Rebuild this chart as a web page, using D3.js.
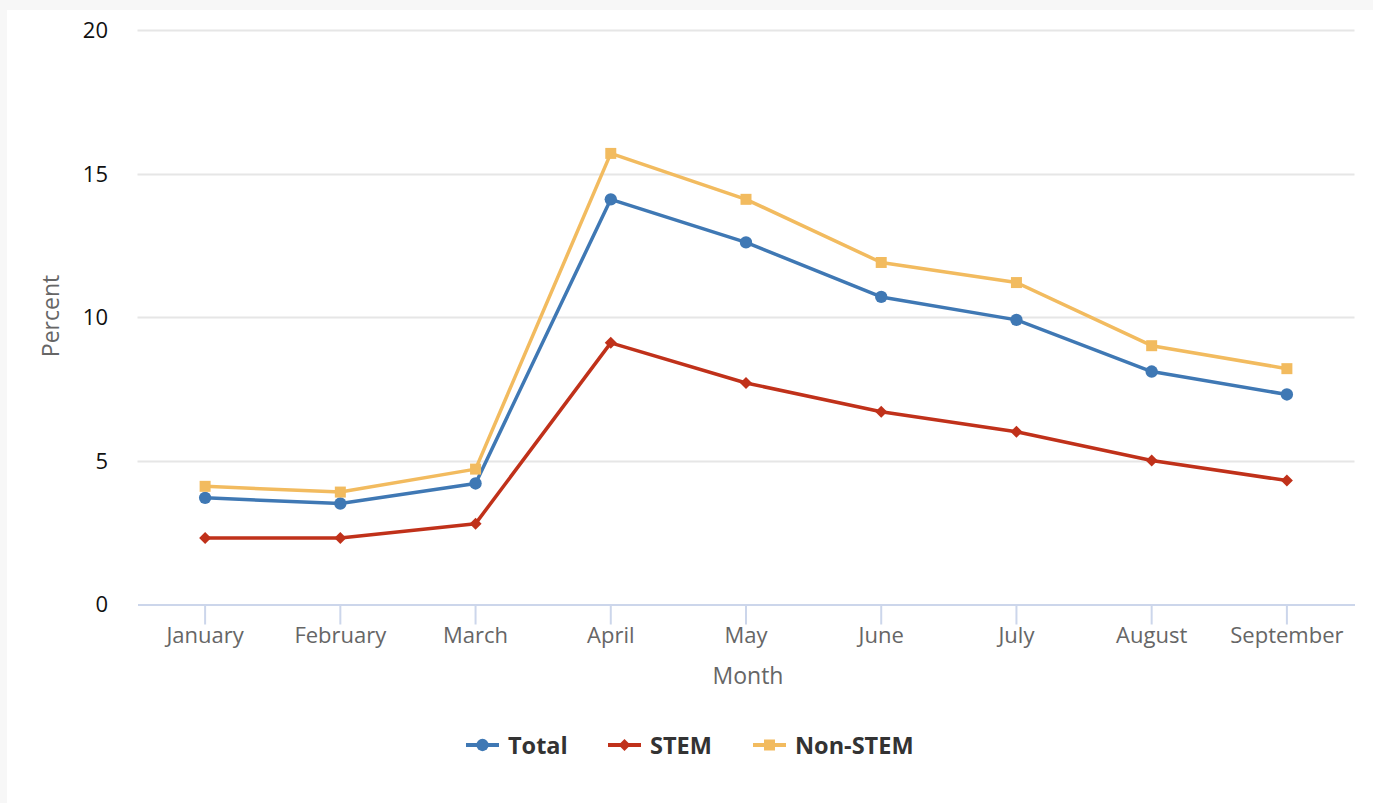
<!DOCTYPE html>
<html>
<head>
<meta charset="utf-8">
<script src="https://cdn.jsdelivr.net/npm/d3@7"></script>
<style>
  html, body { margin: 0; padding: 0; background: #f7f7f7; }
  #chart { position: absolute; left: 7px; top: 10px; width: 1366px; height: 793px; background: #fff; }
  text { font-family: "Open Sans", sans-serif; }
</style>
</head>
<body>
<div id="chart"></div>
<script>
const months = ["January", "February", "March", "April", "May", "June", "July", "August", "September"];
const total = [3.7, 3.5, 4.2, 14.1, 12.6, 10.7, 9.9, 8.1, 7.3];
const stem = [2.3, 2.3, 2.8, 9.1, 7.7, 6.7, 6.0, 5.0, 4.3];
const nonStem = [4.1, 3.9, 4.7, 15.7, 14.1, 11.9, 11.2, 9.0, 8.2];
const yTicks = [0, 5, 10, 15, 20];

const series = [
  { name: "Total", values: total, color: "#3f78b4", symbol: d3.symbolCircle, size: 120, rot: 0 },
  { name: "STEM", values: stem, color: "#c0311a", symbol: d3.symbolSquare, size: 72, rot: 45 },
  { name: "Non-STEM", values: nonStem, color: "#f2bb5f", symbol: d3.symbolSquare, size: 121, rot: 0 }
];

// plot area in page coords, svg offset by panel position
const offX = 7, offY = 10;
const plotLeft = 137.5 - offX, plotRight = 1354.5 - offX;
const plotTop = 30 - offY, plotBottom = 604 - offY;

const svg = d3.select("#chart").append("svg")
  .attr("width", 1366)
  .attr("height", 793);

const x = d3.scaleBand().domain(months).range([plotLeft, plotRight]);
const y = d3.scaleLinear().domain([0, 20]).range([plotBottom, plotTop]);

// gridlines
svg.append("g")
  .selectAll("line")
  .data(yTicks.filter(d => d > 0))
  .join("line")
  .attr("x1", plotLeft).attr("x2", plotRight)
  .attr("y1", d => Math.round(y(d)) + 0.5).attr("y2", d => Math.round(y(d)) + 0.5)
  .attr("stroke", "#e6e6e6")
  .attr("stroke-width", 2);

// y labels
svg.append("g")
  .selectAll("text")
  .data(yTicks)
  .join("text")
  .attr("x", 108 - offX)
  .attr("y", d => y(d) + 8)
  .attr("text-anchor", "end")
  .attr("fill", "#111")
  .style("font-size", "22px")
  .text(d => d);

// x axis
const xAxis = svg.append("g")
  .attr("transform", `translate(0,${Math.round(plotBottom) + 0.5})`)
  .call(d3.axisBottom(x).tickSize(20).tickSizeOuter(0));
xAxis.select(".domain").attr("stroke", "#ccd6eb").attr("stroke-width", 2);
xAxis.selectAll(".tick line").attr("stroke", "#ccd6eb").attr("stroke-width", 2).attr("y2", 20);
xAxis.selectAll(".tick text")
  .attr("y", 38).attr("dy", null)
  .attr("fill", "#666")
  .style("font-size", "22px")
  .style("font-family", "'Open Sans', sans-serif");

// axis titles
svg.append("text")
  .attr("x", 748 - offX).attr("y", 684 - offY)
  .attr("text-anchor", "middle")
  .attr("fill", "#666")
  .style("font-size", "23px")
  .text("Month");

svg.append("text")
  .attr("transform", `translate(${59 - offX},${316 - offY}) rotate(-90)`)
  .attr("text-anchor", "middle")
  .attr("fill", "#666")
  .style("font-size", "23px")
  .text("Percent");

// lines + markers
const line = d3.line()
  .x((d, i) => x(months[i]) + x.bandwidth() / 2)
  .y(d => y(d));

series.forEach(s => {
  const g = svg.append("g");
  g.append("path")
    .datum(s.values)
    .attr("d", line)
    .attr("fill", "none")
    .attr("stroke", s.color)
    .attr("stroke-width", 3.5)
    .attr("stroke-linejoin", "round");
  g.selectAll("path.mark")
    .data(s.values)
    .join("path")
    .attr("class", "mark")
    .attr("transform", (d, i) => `translate(${x(months[i]) + x.bandwidth() / 2},${y(d)}) rotate(${s.rot})`)
    .attr("d", d3.symbol().type(s.symbol).size(s.size))
    .attr("fill", s.color);
});

// legend
const legendX = [466, 608, 753];
const legend = svg.append("g");
series.forEach((s, i) => {
  const lg = legend.append("g").attr("transform", `translate(${legendX[i] - offX},${745 - offY})`);
  lg.append("line")
    .attr("x1", 0).attr("x2", 33)
    .attr("stroke", s.color).attr("stroke-width", 4);
  lg.append("path")
    .attr("transform", `translate(16.5,0) rotate(${s.rot})`)
    .attr("d", d3.symbol().type(s.symbol).size(s.size))
    .attr("fill", s.color);
  lg.append("text")
    .attr("x", 42).attr("y", 8.5)
    .attr("fill", "#333")
    .style("font-size", "23.5px")
    .style("font-weight", "bold")
    .text(s.name);
});
</script>
</body>
</html>
